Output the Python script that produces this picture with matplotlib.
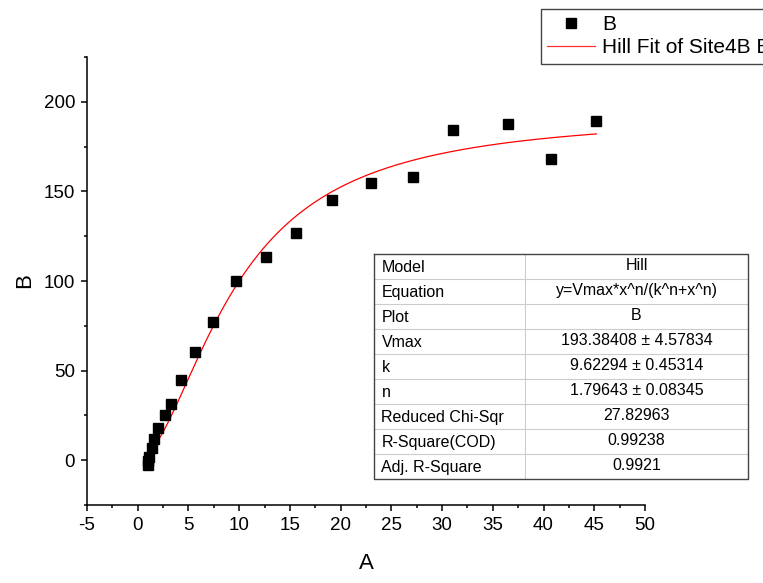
import numpy as np
import matplotlib
matplotlib.use('Agg')
import matplotlib.pyplot as plt
from matplotlib.ticker import MultipleLocator
from matplotlib.lines import Line2D

plt.rcParams['font.family'] = ['Liberation Sans', 'DejaVu Sans']
plt.rcParams['axes.unicode_minus'] = False

# data
A = [0.99, 1.05, 1.11, 1.38, 1.64, 2.03, 2.65, 3.28, 4.27, 5.68, 7.39, 9.69,
     12.62, 15.57, 19.12, 23.03, 27.1, 31.1, 36.5, 40.7, 45.2]
B = [-2.7, -0.5, 2.0, 7.0, 11.7, 17.8, 25.4, 31.4, 44.8, 60.2, 77.3, 100.2,
     113.6, 126.8, 145.2, 154.9, 157.9, 184.3, 187.4, 168.2, 189.1]

# fit parameters shown in the table
Vmax = 193.38408
k = 9.62294
n = 1.79643

row_names = ['Model', 'Equation', 'Plot', 'Vmax', 'k', 'n',
             'Reduced Chi-Sqr', 'R-Square(COD)', 'Adj. R-Square']
row_values = ['Hill', 'y=Vmax*x^n/(k^n+x^n)', 'B', '193.38408 \u00b1 4.57834',
              '9.62294 \u00b1 0.45314', '1.79643 \u00b1 0.08345', '27.82963',
              '0.99238', '0.9921']

W, H = 763, 583
fig = plt.figure(figsize=(W / 100, H / 100), dpi=100)
ax = fig.add_axes([87 / W, (H - 505) / H, (645 - 87) / W, (505 - 57) / H])

# fit curve from the table's equation
xf = np.linspace(min(A), max(A), 300)
yf = Vmax * xf**n / (k**n + xf**n)

ax.plot(A, B, 's', color='black', markersize=7, zorder=3)
ax.plot(xf, yf, color='red', linewidth=0.9, zorder=2)

ax.set_xlim(-5, 50)
ax.set_ylim(-25, 225)
ax.xaxis.set_major_locator(MultipleLocator(5))
ax.xaxis.set_minor_locator(MultipleLocator(2.5))
ax.yaxis.set_major_locator(MultipleLocator(50))
ax.yaxis.set_minor_locator(MultipleLocator(25))
ax.spines['top'].set_visible(False)
ax.spines['right'].set_visible(False)
for s in ['left', 'bottom']:
    ax.spines[s].set_linewidth(1.1)
ax.tick_params(which='major', direction='out', length=4.5, width=1.1, labelsize=13.5, pad=4)
ax.tick_params(which='minor', direction='out', length=2.5, width=1.1)
ax.set_xlabel('A', fontsize=16, labelpad=14)
ax.set_ylabel('B', fontsize=16, labelpad=6)

# legend (runs off the right edge like the original)
handles = [Line2D([], [], marker='s', linestyle='none', color='black', markersize=7),
           Line2D([], [], color='#ff3030', linewidth=0.9)]
fig.legend(handles, ['B', 'Hill Fit of Site4B B'], loc='upper left',
           bbox_to_anchor=(541 / W, 1 - 9 / H), fontsize=15, frameon=True,
           fancybox=False, edgecolor='#444444', framealpha=1,
           handlelength=2.3, handletextpad=0.35, borderpad=0.3, labelspacing=0.2,
           borderaxespad=0)

# parameter table
tx0, tx1, ty0, ty1 = 374, 748, 254, 479
tax = fig.add_axes([tx0 / W, (H - ty1) / H, (tx1 - tx0) / W, (ty1 - ty0) / H])
tax.set_xlim(0, 1)
tax.set_ylim(len(row_names), 0)
tax.axis('off')
split = (525 - tx0) / (tx1 - tx0)
for i in range(1, len(row_names)):
    tax.plot([0, 1], [i, i], color='#cccccc', linewidth=0.8)
tax.plot([split, split], [0, len(row_names)], color='#cccccc', linewidth=0.8)
tax.plot([0, 1, 1, 0, 0], [0, 0, len(row_names), len(row_names), 0],
         color='#444444', linewidth=1.0, clip_on=False)
for i, (name, val) in enumerate(zip(row_names, row_values)):
    tax.text(0.02, i + 0.55, name, fontsize=11.5, ha='left', va='center')
    tax.text((split + 1) / 2, i + 0.45, val, fontsize=11.5, ha='center', va='center')

fig.savefig('out.png', dpi=100)
